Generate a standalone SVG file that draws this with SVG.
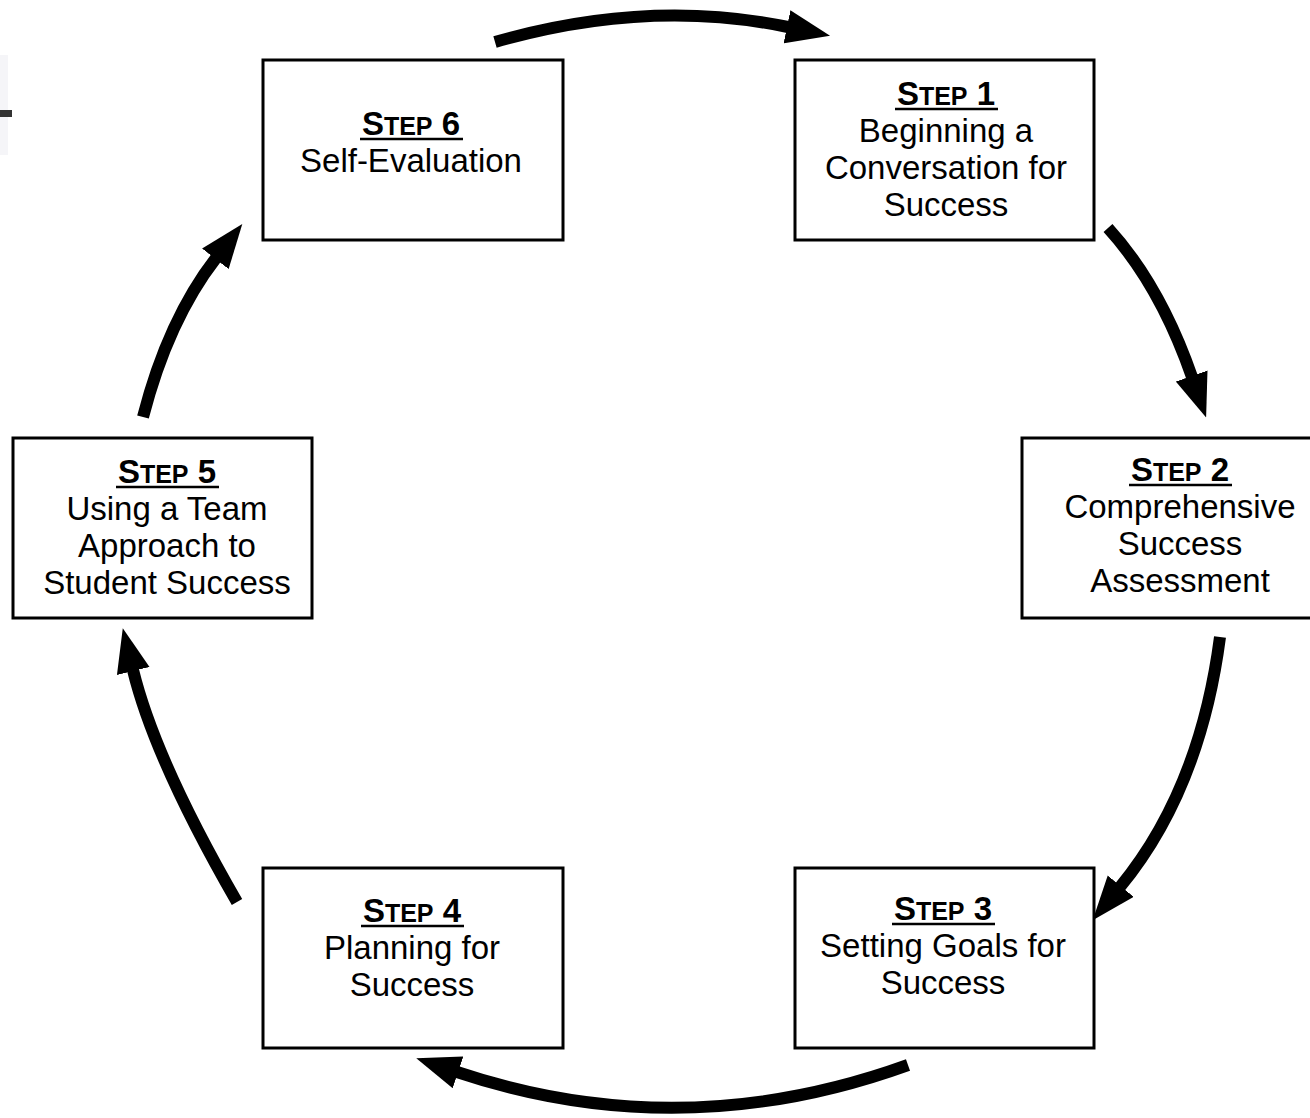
<svg xmlns="http://www.w3.org/2000/svg" width="1310" height="1118" viewBox="0 0 1310 1118">
<style>
.box{fill:#fff;stroke:#000;stroke-width:3}
.t{font-family:"Liberation Sans",Arial,sans-serif;font-size:33px;fill:#000;text-anchor:middle}
.h{font-family:"Liberation Sans",Arial,sans-serif;font-size:33px;font-weight:bold;fill:#000;text-anchor:middle}
.sc{font-size:25px}
.ul{stroke:#000;stroke-width:2.5}
.arr{fill:none;stroke:#000;stroke-width:12;marker-end:url(#ah)}
</style>
<defs>
<marker id="ah" markerUnits="userSpaceOnUse" markerWidth="44" markerHeight="34" viewBox="0 0 42 32" refX="1" refY="16" orient="auto">
<path d="M0,0 L42,16 L0,32 Z" fill="#000"/>
</marker>
</defs>
<rect width="1310" height="1118" fill="#fff"/>
<rect x="0" y="55" width="8" height="100" fill="#f5f5f8"/>
<rect x="0" y="110" width="12" height="7" fill="#333"/>
<g id="connectors">
<path class="arr" d="M495,42 Q648,-2 788,27"/>
<path class="arr" d="M1108,228 Q1160,285 1192,377"/>
<path class="arr" d="M1220,637 Q1200,790 1120,887"/>
<path class="arr" d="M908,1065 Q681,1147 457,1072"/>
<path class="arr" d="M237,902 Q155,760 133,670"/>
<path class="arr" d="M143,417 Q168,320 216,258"/>
</g>
<g id="step6">
<rect class="box" x="263" y="60" width="300" height="180"/>
<text class="h" x="411" y="135">S<tspan class="sc">TEP</tspan> 6</text>
<line class="ul" x1="360" y1="139" x2="463" y2="139"/>
<text class="t" x="411" y="172">Self-Evaluation</text>
</g>
<g id="step1">
<rect class="box" x="795" y="60" width="299" height="180"/>
<text class="h" x="946" y="105">S<tspan class="sc">TEP</tspan> 1</text>
<line class="ul" x1="895" y1="109" x2="998" y2="109"/>
<text class="t" x="946" y="142">Beginning a</text>
<text class="t" x="946" y="179">Conversation for</text>
<text class="t" x="946" y="216">Success</text>
</g>
<g id="step2">
<rect class="box" x="1022" y="438" width="290" height="180"/>
<text class="h" x="1180" y="481">S<tspan class="sc">TEP</tspan> 2</text>
<line class="ul" x1="1129" y1="485" x2="1232" y2="485"/>
<text class="t" x="1180" y="518">Comprehensive</text>
<text class="t" x="1180" y="555">Success</text>
<text class="t" x="1180" y="592">Assessment</text>
</g>
<g id="step3">
<rect class="box" x="795" y="868" width="299" height="180"/>
<text class="h" x="943" y="920">S<tspan class="sc">TEP</tspan> 3</text>
<line class="ul" x1="892" y1="924" x2="995" y2="924"/>
<text class="t" x="943" y="957">Setting Goals for</text>
<text class="t" x="943" y="994">Success</text>
</g>
<g id="step4">
<rect class="box" x="263" y="868" width="300" height="180"/>
<text class="h" x="412" y="922">S<tspan class="sc">TEP</tspan> 4</text>
<line class="ul" x1="361" y1="926" x2="464" y2="926"/>
<text class="t" x="412" y="959">Planning for</text>
<text class="t" x="412" y="996">Success</text>
</g>
<g id="step5">
<rect class="box" x="13" y="438" width="299" height="180"/>
<text class="h" x="167" y="483">S<tspan class="sc">TEP</tspan> 5</text>
<line class="ul" x1="116" y1="487" x2="219" y2="487"/>
<text class="t" x="167" y="520">Using a Team</text>
<text class="t" x="167" y="557">Approach to</text>
<text class="t" x="167" y="594">Student Success</text>
</g>
</svg>
